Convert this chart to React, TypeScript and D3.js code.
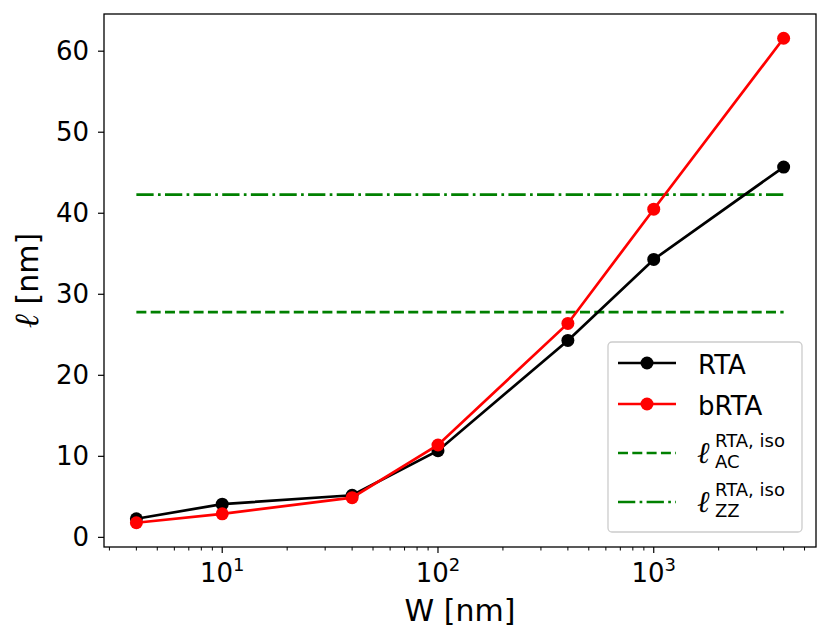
import * as d3 from 'd3'

const widths = [4, 10, 40, 100, 400, 1000, 4000]
const rtaValues = [2.3, 4.1, 5.2, 10.7, 24.3, 34.3, 45.7]
const brtaValues = [1.8, 2.9, 4.9, 11.4, 26.4, 40.5, 61.6]
const acIso = 27.8
const zzIso = 42.3
const yTicks = [0, 10, 20, 30, 40, 50, 60]
const xMajorTicks = [10, 100, 1000]

const FONT = 'DejaVu Sans'
const ELL_FONT = 'Liberation Serif'

export default function App() {
  const width = 831
  const height = 641
  const margin = { top: 14, right: 15, bottom: 94, left: 104 }
  const innerW = width - margin.left - margin.right
  const innerH = height - margin.top - margin.bottom

  // matplotlib-style 5% margins on a log axis
  const lx = d3.extent(widths.map(Math.log10)) as [number, number]
  const padX = (lx[1] - lx[0]) * 0.05
  const x = d3.scaleLog()
    .domain([Math.pow(10, lx[0] - padX), Math.pow(10, lx[1] + padX)])
    .range([0, innerW])

  const allY = [...rtaValues, ...brtaValues]
  const ly = d3.extent(allY) as [number, number]
  const padY = (ly[1] - ly[0]) * 0.05
  const y = d3.scaleLinear()
    .domain([ly[0] - padY, ly[1] + padY])
    .range([innerH, 0])

  const [d0, d1] = x.domain()
  const minorTicks: number[] = []
  for (let e = Math.floor(Math.log10(d0)); e <= Math.ceil(Math.log10(d1)); e++) {
    for (let m = 2; m <= 9; m++) {
      const v = m * Math.pow(10, e)
      if (v >= d0 && v <= d1) minorTicks.push(v)
    }
  }

  const line = d3.line<number>()
    .x((_, i) => x(widths[i]))
    .y(d => y(d))

  const lw = 2.7
  const dashed = `${3.7 * lw},${1.6 * lw}`
  const dashDot = `${6.4 * lw},${1.6 * lw},${1 * lw},${1.6 * lw}`
  const xFirst = x(widths[0])
  const xLast = x(widths[widths.length - 1])

  const series = [
    { name: 'RTA', color: 'black', values: rtaValues },
    { name: 'bRTA', color: 'red', values: brtaValues },
  ]

  // legend layout
  const lg = { x: 504, y: 328, w: 194, h: 190 }
  const handleX0 = 10
  const handleX1 = 68
  const textX = 90

  return (
    <div style={{ position: 'absolute', left: 0, top: 0 }}>
      <svg width={width} height={height} style={{ fontFamily: FONT, display: 'block' }}>
        <rect width={width} height={height} fill="white" />
        <g transform={`translate(${margin.left},${margin.top})`}>
          {/* iso reference lines */}
          <line x1={xFirst} x2={xLast} y1={y(acIso)} y2={y(acIso)}
            stroke="green" strokeWidth={lw} strokeDasharray={dashed} />
          <line x1={xFirst} x2={xLast} y1={y(zzIso)} y2={y(zzIso)}
            stroke="green" strokeWidth={lw} strokeDasharray={dashDot} />

          {series.map(s => (
            <g key={s.name}>
              <path d={line(s.values) ?? ''} fill="none" stroke={s.color} strokeWidth={lw} />
              {s.values.map((v, i) => (
                <circle key={i} cx={x(widths[i])} cy={y(v)} r={6.5} fill={s.color} />
              ))}
            </g>
          ))}

          {/* spines */}
          <rect x={0} y={0} width={innerW} height={innerH} fill="none" stroke="black" strokeWidth={1.3} />

          {/* y axis */}
          {yTicks.map(t => (
            <g key={t} transform={`translate(0,${y(t)})`}>
              <line x1={-6} x2={0} stroke="black" strokeWidth={1.2} />
              <text x={-15} dy="0.35em" textAnchor="end" fontSize={26}>{t}</text>
            </g>
          ))}

          {/* x axis */}
          {minorTicks.map(t => (
            <line key={t} x1={x(t)} x2={x(t)} y1={innerH} y2={innerH + 3.5} stroke="black" strokeWidth={1} />
          ))}
          {xMajorTicks.map(t => (
            <g key={t} transform={`translate(${x(t)},${innerH})`}>
              <line y1={0} y2={6} stroke="black" strokeWidth={1.2} />
              <text y={35} textAnchor="middle" fontSize={26}>
                10<tspan fontSize={18} dy={-11}>{Math.round(Math.log10(t))}</tspan>
              </text>
            </g>
          ))}

          <text x={innerW / 2} y={innerH + 74} textAnchor="middle" fontSize={30}>W [nm]</text>
          <text transform={`translate(${38 - margin.left},${innerH / 2}) rotate(-90)`}
            textAnchor="middle" fontSize={30}>
            <tspan fontFamily={ELL_FONT} fontStyle="italic" fontSize={34}>ℓ</tspan> [nm]
          </text>

          {/* legend */}
          <g transform={`translate(${lg.x},${lg.y})`}>
            <rect width={lg.w} height={lg.h} rx={4} fill="white" fillOpacity={0.8} stroke="#cccccc" strokeWidth={1.3} />
            {series.map((s, i) => {
              const cy = 21 + i * 41
              return (
                <g key={s.name}>
                  <line x1={handleX0} x2={handleX1} y1={cy} y2={cy} stroke={s.color} strokeWidth={lw} />
                  <circle cx={(handleX0 + handleX1) / 2} cy={cy} r={6.5} fill={s.color} />
                  <text x={textX} y={cy + 11} fontSize={26}>{s.name}</text>
                </g>
              )
            })}
            {[
              { sub: 'AC', dash: dashed, cy: 111 },
              { sub: 'ZZ', dash: dashDot, cy: 160 },
            ].map(e => (
              <g key={e.sub}>
                <line x1={handleX0} x2={handleX1} y1={e.cy} y2={e.cy} stroke="green" strokeWidth={lw} strokeDasharray={e.dash} />
                <text x={textX - 1} y={e.cy + 10} fontSize={30} fontFamily={ELL_FONT} fontStyle="italic">ℓ</text>
                <text x={textX + 17} y={e.cy - 6} fontSize={18}>RTA, iso</text>
                <text x={textX + 17} y={e.cy + 15} fontSize={18}>{e.sub}</text>
              </g>
            ))}
          </g>
        </g>
      </svg>
    </div>
  )
}
